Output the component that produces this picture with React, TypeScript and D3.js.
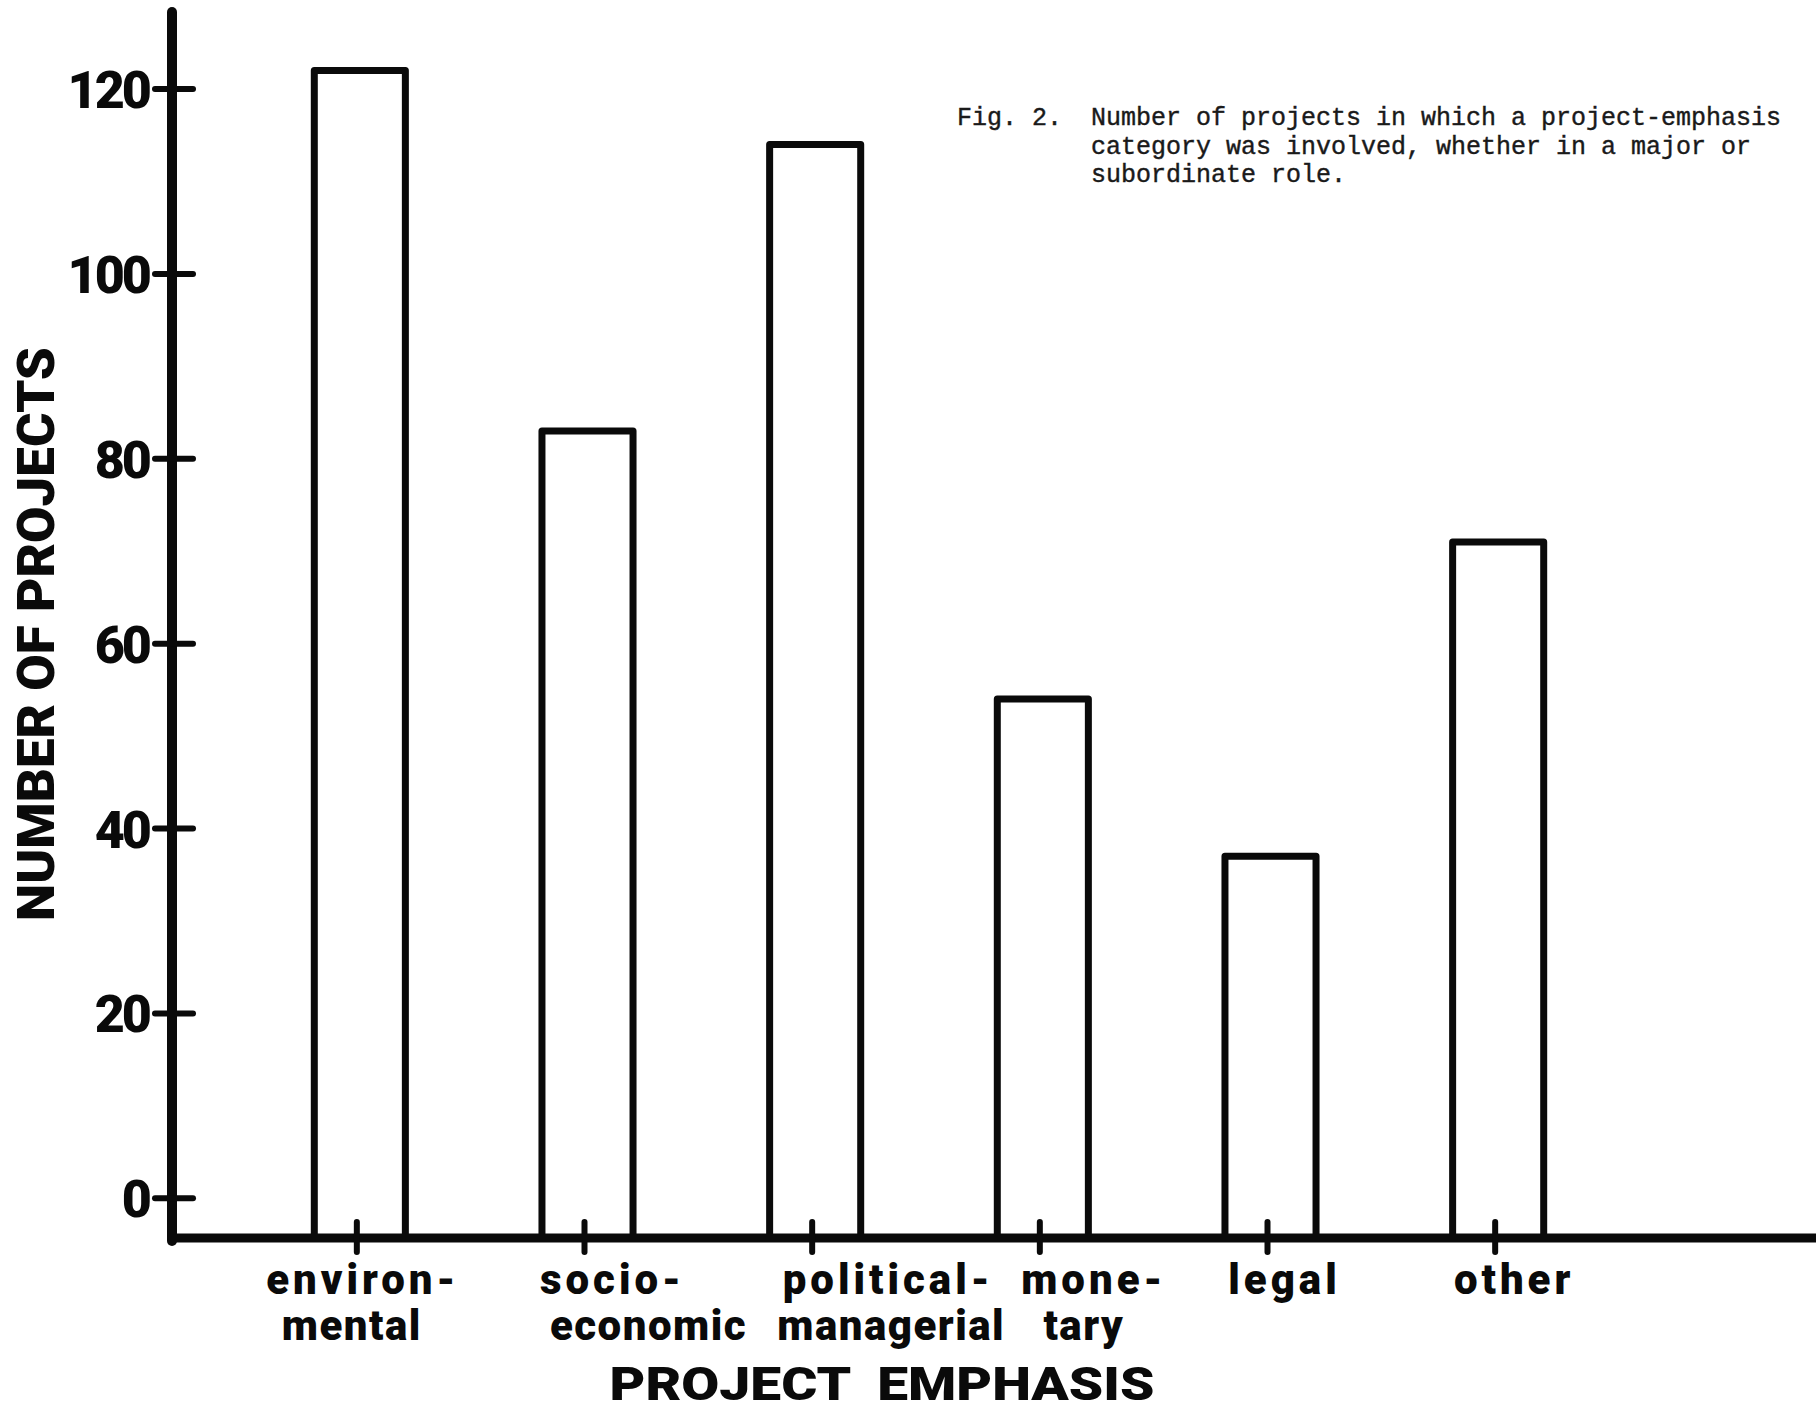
import { useEffect } from 'react';
import * as d3 from 'd3';

// values
const categories = ['environmental', 'socio-economic', 'political-managerial', 'monetary', 'legal', 'other'];
const categoryLabels = [
  ['environ-', 'mental'],
  ['socio-', 'economic'],
  ['political-', 'managerial'],
  ['mone-', 'tary'],
  ['legal'],
  ['other'],
];
const projectCounts = [122, 83, 114, 54, 37, 71];
const yTicks = [0, 20, 40, 60, 80, 100, 120];
const yTitle = 'NUMBER OF PROJECTS';
const xTitle = 'PROJECT  EMPHASIS';
const captionLead = 'Fig. 2.';
const captionLines = [
  'Number of projects in which a project-emphasis',
  'category was involved, whether in a major or',
  'subordinate role.',
];

const W = 1816;
const H = 1413;
const ink = '#0a0a0a';
const heavy = "'Roboto', 'DejaVu Sans', sans-serif";

export default function App() {
  useEffect(() => {
    document.body.style.margin = '0';
  }, []);

  const axisX = 172;
  const baseY = 1238;

  // zero sits a little above the baseline in the original
  const y = d3.scaleLinear().domain([-4.3, 120]).range([baseY, 89]);
  const x = d3.scaleBand<string>()
    .domain(categories)
    .range([246, 1612])
    .paddingInner(0.6)
    .paddingOuter(0.3);

  // hand-lettered labels sit a bit off the bar centres
  const labelDx = [[3, -8], [25, 61], [73, 76], [51, 41], [14], [16]];

  return (
    <svg width={W} height={H} style={{ position: 'absolute', left: 0, top: 0, background: '#fff' }}>
      <rect x={0} y={0} width={W} height={H} fill="#fff" />

      {/* bars */}
      {categories.map((c, i) => (
        <rect
          key={c}
          x={x(c)}
          y={y(projectCounts[i])}
          width={x.bandwidth()}
          height={baseY - y(projectCounts[i])}
          fill="#fff"
          stroke={ink}
          strokeWidth={7}
          strokeLinejoin="round"
        />
      ))}

      {/* axes */}
      <line x1={axisX} x2={axisX} y1={12} y2={baseY + 3} stroke={ink} strokeWidth={10} strokeLinecap="round" />
      <line x1={axisX - 4} x2={W} y1={baseY} y2={baseY} stroke={ink} strokeWidth={9} />

      {yTicks.map(t => (
        <g key={t}>
          <line x1={155} x2={193} y1={y(t)} y2={y(t)} stroke={ink} strokeWidth={6} strokeLinecap="round" />
          <text
            x={149}
            y={y(t) + 19}
            textAnchor="end"
            fontFamily={heavy}
            fontWeight={900}
            fontSize={52}
            letterSpacing={-3}
            fill={ink}
          >
            {t}
          </text>
        </g>
      ))}

      {categories.map((c, i) => {
        const cx = (x(c) || 0) + x.bandwidth() / 2;
        return (
          <g key={c}>
            <line x1={cx - 3} x2={cx - 3} y1={1222} y2={1252} stroke={ink} strokeWidth={6} strokeLinecap="round" />
            {categoryLabels[i].map((s, j) => (
              <text
                key={s}
                x={cx + labelDx[i][j]}
                y={1294 + j * 46}
                textAnchor="middle"
                fontFamily={heavy}
                fontWeight={900}
                fontSize={42}
                letterSpacing={j === 0 ? 4 : 1.5}
                fill={ink}
              >
                {s}
              </text>
            ))}
          </g>
        );
      })}

      {/* axis titles */}
      <text
        transform="translate(54,634) rotate(-90)"
        textAnchor="middle"
        fontFamily={heavy}
        fontWeight={900}
        fontSize={52}
        textLength={574}
        lengthAdjust="spacingAndGlyphs"
        fill={ink}
      >
        {yTitle}
      </text>
      <text
        x={882}
        y={1400}
        textAnchor="middle"
        fontFamily={heavy}
        fontWeight={900}
        fontSize={47}
        textLength={545}
        lengthAdjust="spacingAndGlyphs"
        xmlSpace="preserve"
        fill={ink}
      >
        {xTitle}
      </text>

      {/* caption */}
      <g
        fontFamily="'Liberation Mono', 'Courier New', monospace"
        fontSize={25}
        fill="#1a1a1a"
        stroke="#1a1a1a"
        strokeWidth={0.4}
      >
        <text x={957} y={125}>{captionLead}</text>
        {captionLines.map((l, i) => (
          <text key={i} x={1091} y={125 + i * 28.5}>{l}</text>
        ))}
      </g>
    </svg>
  );
}
